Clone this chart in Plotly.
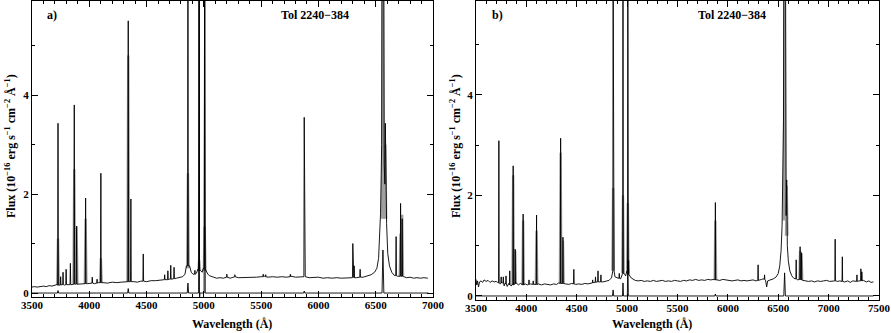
import plotly.graph_objects as go

# ---------------- Panel a data ----------------
CONT_A_WAVE = [3500, 3520, 3545, 3570, 3600, 3625, 3650, 3675, 3700, 3715, 3740, 3760, 3785, 3815, 3850,
               3880, 3910, 3940, 3985, 4010, 4045, 4080, 4120, 4160, 4200, 4240, 4280, 4320, 4390, 4420,
               4450, 4500, 4540, 4580, 4620, 4645, 4700, 4760, 4790, 4815, 4835, 4848, 4875, 4890, 4905,
               4935, 4948, 4970, 4985, 4995, 5020, 5035, 5050, 5080, 5110, 5140, 5170, 5200, 5230, 5270,
               5300, 5340, 5380, 5420, 5460, 5500, 5530, 5560, 5600, 5640, 5680, 5720, 5760, 5800, 5840,
               5870, 5885, 5920, 5960, 6000, 6040, 6080, 6120, 6160, 6200, 6240, 6280, 6330, 6390, 6420,
               6460, 6490, 6510, 6525, 6535, 6542, 6548, 6552, 6555, 6570, 6574, 6580, 6584, 6588, 6595,
               6605, 6620, 6640, 6660, 6690, 6710, 6745, 6770, 6800, 6830, 6860, 6890, 6920, 6955]
CONT_A_FLUX = [0.12, 0.13, 0.12, 0.13, 0.14, 0.13, 0.15, 0.14, 0.16, 0.17, 0.16, 0.17, 0.16, 0.17, 0.17,
               0.18, 0.18, 0.19, 0.19, 0.20, 0.19, 0.21, 0.21, 0.20, 0.22, 0.21, 0.22, 0.23, 0.23, 0.22,
               0.24, 0.23, 0.25, 0.25, 0.26, 0.27, 0.28, 0.30, 0.31, 0.33, 0.38, 0.55, 0.55, 0.42, 0.38,
               0.40, 0.48, 0.46, 0.42, 0.50, 0.45, 0.38, 0.35, 0.32, 0.30, 0.31, 0.30, 0.32, 0.30, 0.33,
               0.31, 0.31, 0.31, 0.32, 0.32, 0.33, 0.34, 0.32, 0.33, 0.32, 0.33, 0.32, 0.34, 0.32, 0.33,
               0.34, 0.33, 0.31, 0.31, 0.32, 0.30, 0.31, 0.30, 0.31, 0.30, 0.31, 0.32, 0.31, 0.32, 0.34,
               0.37, 0.42, 0.50, 0.70, 1.10, 1.60, 2.40, 3.00, 7.00, 7.00, 2.60, 2.20, 3.43, 2.00, 1.40,
               0.80, 0.55, 0.42, 0.36, 0.34, 0.35, 0.33, 0.31, 0.32, 0.30, 0.31, 0.30, 0.31, 0.30]
# emission lines: centre wavelength, local base, peak
LINE_A_WAVE = [3727, 3750, 3771, 3798, 3835, 3869, 3889, 3968, 4026, 4068, 4101, 4340, 4363, 4471,
               4658, 4686, 4711, 4740, 4861, 4922, 4959, 5007, 5200, 5270, 5518, 5540, 5755, 5876,
               6300, 6312, 6364, 6678, 6717, 6731]
LINE_A_BASE = [0.16, 0.16, 0.17, 0.17, 0.17, 0.18, 0.18, 0.19, 0.20, 0.20, 0.21, 0.23, 0.23, 0.24,
               0.27, 0.27, 0.28, 0.29, 0.55, 0.38, 0.46, 0.50, 0.32, 0.33, 0.33, 0.33, 0.33, 0.33,
               0.31, 0.31, 0.32, 0.35, 0.34, 0.34]
LINE_A_PEAK = [3.43, 0.33, 0.42, 0.48, 0.60, 3.80, 1.35, 1.92, 0.32, 0.28, 2.42, 5.50, 1.90, 0.79,
               0.37, 0.45, 0.56, 0.52, 7.00, 0.46, 7.00, 7.00, 0.38, 0.37, 0.38, 0.37, 0.38, 3.55,
               1.00, 0.55, 0.48, 1.14, 1.81, 1.50]
GREY_A_WAVE = [3727, 3869, 3889, 3968, 4101, 4340, 4861, 4959, 5007, 6563, 6584, 6717, 6731]
GREY_A_BASE = [0.16, 0.18, 0.18, 0.19, 0.21, 0.23, 0.50, 0.45, 0.45, 1.50, 1.50, 0.34, 0.34]
GREY_A_PEAK = [1.10, 2.50, 1.35, 1.50, 0.70, 4.80, 2.42, 0.67, 1.34, 7.00, 3.00, 1.20, 1.58]
LOW_A_WAVE = [3500, 3722, 3727, 3732, 4335, 4340, 4345, 4855, 4861, 4867, 4954, 4959, 4962, 4966,
              5002, 5007, 5012, 5871, 5876, 5881, 6555, 6563, 6571, 6960]
LOW_A_FLUX = [0.0, 0.0, 0.05, 0.0, 0.0, 0.09, 0.0, 0.0, 0.20, 0.0, 0.0, 7.0, -0.20, 0.0,
              0.0, 7.0, 0.0, 0.0, 0.04, 0.0, 0.0, 0.87, 0.0, 0.0]

# ---------------- Panel b data ----------------
CONT_B_WAVE = [3500, 3508, 3515, 3525, 3535, 3550, 3565, 3580, 3600, 3620, 3640, 3660, 3680, 3700, 3715,
               3740, 3760, 3780, 3790, 3810, 3825, 3850, 3860, 3900, 3920, 3940, 3960, 3990, 4010, 4040,
               4060, 4085, 4120, 4150, 4180, 4210, 4240, 4270, 4300, 4320, 4390, 4420, 4450, 4490, 4520,
               4550, 4580, 4610, 4640, 4670, 4700, 4760, 4790, 4820, 4845, 4852, 4870, 4880, 4900, 4935,
               4948, 4970, 4985, 4998, 5020, 5040, 5060, 5080, 5110, 5140, 5170, 5200, 5230, 5260, 5290,
               5320, 5350, 5380, 5410, 5440, 5470, 5500, 5530, 5560, 5590, 5620, 5650, 5680, 5710, 5740,
               5770, 5800, 5830, 5860, 5890, 5920, 5950, 5980, 6010, 6040, 6070, 6100, 6130, 6160, 6190,
               6220, 6250, 6280, 6335, 6350, 6375, 6385, 6395, 6420, 6450, 6480, 6500, 6515, 6528, 6538,
               6546, 6552, 6556, 6572, 6578, 6584, 6590, 6600, 6615, 6635, 6655, 6690, 6705, 6745, 6770,
               6800, 6830, 6860, 6890, 6920, 6950, 6980, 7010, 7040, 7090, 7110, 7160, 7190, 7215, 7240,
               7300, 7345, 7375, 7400, 7420, 7445]
CONT_B_FLUX = [0.33, 0.22, 0.30, 0.18, 0.28, 0.30, 0.27, 0.32, 0.29, 0.31, 0.27, 0.30, 0.28, 0.29, 0.27,
               0.24, 0.27, 0.20, 0.26, 0.19, 0.25, 0.20, 0.23, 0.26, 0.22, 0.25, 0.22, 0.24, 0.22, 0.24,
               0.22, 0.23, 0.24, 0.22, 0.24, 0.23, 0.22, 0.24, 0.23, 0.26, 0.24, 0.23, 0.25, 0.23, 0.24,
               0.23, 0.25, 0.24, 0.26, 0.27, 0.28, 0.28, 0.30, 0.31, 0.36, 0.50, 0.50, 0.38, 0.36, 0.34,
               0.42, 0.45, 0.40, 0.50, 0.42, 0.36, 0.33, 0.31, 0.30, 0.31, 0.29, 0.30, 0.29, 0.31, 0.29,
               0.30, 0.31, 0.29, 0.30, 0.29, 0.31, 0.30, 0.29, 0.31, 0.30, 0.32, 0.31, 0.33, 0.31, 0.32,
               0.31, 0.33, 0.32, 0.33, 0.32, 0.31, 0.33, 0.32, 0.31, 0.30, 0.31, 0.32, 0.30, 0.31, 0.30,
               0.31, 0.32, 0.30, 0.33, 0.34, 0.30, 0.18, 0.30, 0.32, 0.34, 0.38, 0.45, 0.60, 0.90, 1.40,
               2.20, 3.50, 7.00, 7.00, 1.60, 2.31, 1.00, 0.70, 0.50, 0.40, 0.35, 0.32, 0.33, 0.31, 0.30,
               0.29, 0.30, 0.28, 0.30, 0.29, 0.30, 0.31, 0.29, 0.30, 0.29, 0.30, 0.28, 0.30, 0.27, 0.30,
               0.30, 0.31, 0.28, 0.30, 0.27, 0.28]
LINE_B_WAVE = [3727, 3750, 3771, 3798, 3835, 3869, 3889, 3968, 4026, 4068, 4101, 4340, 4363, 4471,
               4658, 4686, 4711, 4740, 4861, 4922, 4959, 5007, 5015, 5876, 6300, 6364, 6678, 6717,
               6731, 7065, 7136, 7281, 7320, 7330]
LINE_B_BASE = [0.26, 0.26, 0.25, 0.24, 0.22, 0.22, 0.24, 0.22, 0.23, 0.23, 0.23, 0.25, 0.25, 0.24,
               0.26, 0.27, 0.28, 0.28, 0.50, 0.35, 0.45, 0.50, 0.42, 0.32, 0.31, 0.33, 0.34, 0.33,
               0.32, 0.30, 0.29, 0.29, 0.30, 0.30]
LINE_B_PEAK = [3.09, 0.38, 0.38, 0.40, 0.50, 2.59, 0.93, 1.63, 0.32, 0.30, 1.61, 3.14, 1.17, 0.53,
               0.32, 0.38, 0.50, 0.42, 7.00, 0.45, 7.00, 7.00, 0.70, 1.86, 0.62, 0.42, 0.72, 0.98,
               0.86, 1.13, 0.78, 0.42, 0.54, 0.48]
GREY_B_WAVE = [3869, 3889, 3968, 4101, 4340, 4363, 4861, 4959, 5007, 5876, 6563, 6584, 6717, 6731]
GREY_B_BASE = [0.22, 0.24, 0.22, 0.23, 0.25, 0.25, 0.50, 0.45, 0.45, 0.32, 1.50, 1.20, 0.33, 0.32]
GREY_B_PEAK = [2.40, 0.90, 1.50, 1.30, 2.85, 1.10, 2.15, 2.00, 1.85, 1.50, 7.00, 2.20, 0.90, 0.85]
LOW_B_WAVE = [3500, 4855, 4861, 4867, 4954, 4959, 4964, 5002, 5007, 5012, 5871, 5876, 5881,
              6555, 6563, 6571, 7445]
LOW_B_FLUX = [0.0, 0.0, 0.12, 0.0, 0.0, 0.26, 0.0, 0.0, 0.72, 0.0, 0.0, 0.04, 0.0,
              0.0, 0.46, 0.0, 0.0]

TITLE = "Tol 2240\u2212384"
XLABEL = "Wavelength (\u00c5)"
YLABEL = "Flux (10<sup>\u221216</sup> erg s<sup>\u22121</sup> cm<sup>\u22122</sup> \u00c5<sup>\u22121</sup>)"


def build_spectrum(cw, cf, lw, lb, lp, hw):
    pts = list(zip(cw, cf))
    for c, b, p in zip(lw, lb, lp):
        pts += [(c - hw, b), (c, p), (c + hw, b)]
    pts.sort(key=lambda t: t[0])
    return [t[0] for t in pts], [t[1] for t in pts]


def build_segments(lw, lb, lp, hw):
    xs, ys = [], []
    for c, b, p in zip(lw, lb, lp):
        xs += [c - hw, c, c + hw, None]
        ys += [b, p, b, None]
    return xs, ys


FONT = dict(family="Liberation Serif", size=11, color="black", weight="bold")

fig = go.Figure()

panels = [
    ("x", "y", CONT_A_WAVE, CONT_A_FLUX, LINE_A_WAVE, LINE_A_BASE, LINE_A_PEAK,
     GREY_A_WAVE, GREY_A_BASE, GREY_A_PEAK, LOW_A_WAVE, LOW_A_FLUX),
    ("x2", "y2", CONT_B_WAVE, CONT_B_FLUX, LINE_B_WAVE, LINE_B_BASE, LINE_B_PEAK,
     GREY_B_WAVE, GREY_B_BASE, GREY_B_PEAK, LOW_B_WAVE, LOW_B_FLUX),
]
for xa, ya, cw, cf, lw, lb, lp, gw, gb, gp, loww, lowf in panels:
    gx, gy = build_segments(gw, gb, gp, 7)
    fig.add_trace(go.Scatter(x=gx, y=gy, mode="lines", xaxis=xa, yaxis=ya,
                             line=dict(color="#a0a0a0", width=2.4), connectgaps=False,
                             showlegend=False, hoverinfo="skip"))
    sx, sy = build_spectrum(cw, cf, lw, lb, lp, 3)
    fig.add_trace(go.Scatter(x=sx, y=sy, mode="lines", xaxis=xa, yaxis=ya,
                             line=dict(color="black", width=0.9), showlegend=False))
    fig.add_trace(go.Scatter(x=loww, y=lowf, mode="lines", xaxis=xa, yaxis=ya,
                             line=dict(color="black", width=0.9), showlegend=False))

W, H = 891, 333


def xdom(a, b):
    return [a / W, b / W]


def ydom(top, bottom):
    return [1 - bottom / H, 1 - top / H]


common_x = dict(showgrid=False, zeroline=False, showline=True, linecolor="black", linewidth=1,
                mirror="allticks", ticks="inside", ticklen=6, tickcolor="black", dtick=500,
                automargin=False, ticklabelstandoff=-2,
                tickfont=FONT, minor=dict(dtick=100, ticks="inside", ticklen=3, tickcolor="black"))
common_y = dict(showgrid=False, zeroline=False, showline=True, linecolor="black", linewidth=1,
                mirror="allticks", ticks="inside", ticklen=6, tickcolor="black", dtick=2,
                automargin=False, ticklabelstandoff=0,
                tickfont=FONT, minor=dict(dtick=1, ticks="inside", ticklen=3, tickcolor="black"))

fig.update_layout(
    width=W, height=H, margin=dict(l=0, r=0, t=0, b=0, autoexpand=False),
    paper_bgcolor="white", plot_bgcolor="white",
    xaxis=dict(common_x, domain=xdom(32, 433), range=[3500, 7000], anchor="y", tick0=3500),
    yaxis=dict(common_y, domain=ydom(1, 297), range=[-0.08, 5.9], anchor="x"),
    xaxis2=dict(common_x, domain=xdom(476, 879), range=[3500, 7500], anchor="y2", tick0=3500),
    yaxis2=dict(common_y, domain=ydom(1, 300), range=[-0.08, 5.87], anchor="x2"),
)

ann = [
    dict(text="a)", x=45, y=15, xanchor="left", size=12),
    dict(text=TITLE, x=315, y=15, xanchor="center", size=12),
    dict(text="b)", x=490, y=15, xanchor="left", size=12),
    dict(text=TITLE, x=732, y=15, xanchor="center", size=12),
    dict(text=XLABEL, x=232, y=324, xanchor="center", size=12),
    dict(text=XLABEL, x=652, y=324, xanchor="center", size=12),
]
for a in ann:
    fig.add_annotation(text=a["text"], x=a["x"] / W, y=1 - a["y"] / H, xref="paper", yref="paper",
                       xanchor=a["xanchor"], yanchor="middle", showarrow=False,
                       font=dict(FONT, size=a["size"]))
for xc in (10, 455):
    fig.add_annotation(text=YLABEL, x=xc / W, y=1 - 146 / H, xref="paper", yref="paper",
                       xanchor="center", yanchor="middle", showarrow=False, textangle=-90,
                       font=dict(FONT, size=12))

fig.write_html("out.html", config={"displayModeBar": False},
               post_script="document.body.style.margin='0';document.body.style.overflow='hidden';")
